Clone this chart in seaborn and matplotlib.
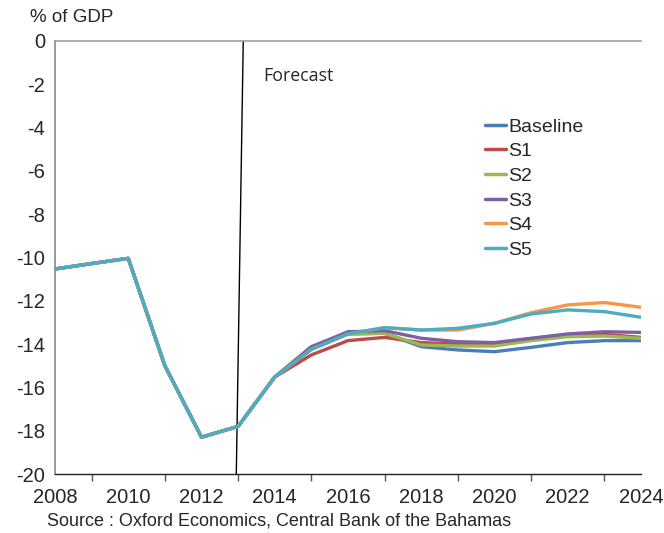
import matplotlib
matplotlib.use("Agg")
import matplotlib.pyplot as plt
import seaborn as sns
import pandas as pd
from matplotlib.ticker import MultipleLocator

# Fiscal balance, % of GDP
years = list(range(2008, 2025))
baseline = [-10.53, -10.28, -10.04, -15.0, -18.3, -17.8, -15.52, -14.24, -13.53, -13.5, -14.12, -14.27, -14.35, -14.15, -13.93, -13.84, -13.84]
s1 = [-10.53, -10.28, -10.04, -15.0, -18.3, -17.8, -15.52, -14.5, -13.84, -13.69, -13.93, -14.0, -14.04, -13.8, -13.6, -13.55, -13.69]
s2 = [-10.53, -10.28, -10.04, -15.0, -18.3, -17.8, -15.52, -14.12, -13.53, -13.5, -14.04, -14.09, -14.09, -13.84, -13.66, -13.63, -13.73]
s3 = [-10.53, -10.28, -10.04, -15.0, -18.3, -17.8, -15.52, -14.12, -13.43, -13.38, -13.73, -13.89, -13.93, -13.73, -13.53, -13.43, -13.46]
s4 = [-10.53, -10.28, -10.04, -15.0, -18.3, -17.8, -15.52, -14.24, -13.53, -13.24, -13.35, -13.35, -13.04, -12.55, -12.19, -12.08, -12.3]
s5 = [-10.53, -10.28, -10.04, -15.0, -18.3, -17.8, -15.52, -14.24, -13.53, -13.24, -13.35, -13.27, -13.04, -12.61, -12.42, -12.5, -12.76]

series_names = ["Baseline", "S1", "S2", "S3", "S4", "S5"]
series_values = [baseline, s1, s2, s3, s4, s5]
colors = ["#4a7ebb", "#be4b48", "#98b954", "#7d60a0", "#f79646", "#4bacc6"]

frames = [pd.DataFrame({"year": years, "value": v, "scenario": n})
          for n, v in zip(series_names, series_values)]
df = pd.concat(frames, ignore_index=True)

sns.set_style("white")
plt.rcParams["font.family"] = ["Liberation Sans", "DejaVu Sans"]
plt.rcParams["axes.unicode_minus"] = False

fig = plt.figure(figsize=(6.64, 5.33), dpi=100)
ax = fig.add_axes([55 / 664, 1 - 474 / 533, (641 - 55) / 664, (474 - 41) / 533])

sns.lineplot(data=df, x="year", y="value", hue="scenario",
             hue_order=series_names, palette=colors, linewidth=2.4,
             ax=ax, legend=True)

ax.set_xlim(2008, 2024)
ax.set_ylim(-20, 0)
ax.xaxis.set_major_locator(MultipleLocator(2))
ax.xaxis.set_minor_locator(MultipleLocator(1))
ax.yaxis.set_major_locator(MultipleLocator(2))
ax.set_xlabel("")
ax.set_ylabel("")

ax.tick_params(axis="x", which="both", direction="out", length=5, width=1,
               color="#555555", labelsize=14.5, pad=5)
ax.tick_params(axis="y", which="major", direction="out", length=5, width=1,
               color="#888888", labelsize=14.5, pad=2)
ax.tick_params(axis="y", which="minor", left=False)
ax.tick_params(axis="x", which="minor", bottom=True)

ax.spines["right"].set_visible(False)
ax.spines["top"].set_color("#a0a0a0")
ax.spines["top"].set_linewidth(1.2)
ax.spines["left"].set_color("#888888")
ax.spines["left"].set_linewidth(1.2)
ax.spines["bottom"].set_color("#222222")
ax.spines["bottom"].set_linewidth(1.0)

# Forecast divider
ax.plot([2013.14, 2012.95], [0, -20], color="black", linewidth=1.0,
        clip_on=False, zorder=1)
ax.text(2013.68, -1.6, "Forecast", fontsize=12.8, family=["Open Sans", "DejaVu Sans"],
        va="center", ha="left")

leg = ax.legend(loc="upper left", bbox_to_anchor=(0.72, 0.84), frameon=False,
                fontsize=14, handlelength=1.1, handletextpad=0.12,
                labelspacing=0.36, borderaxespad=0)
for line in leg.get_lines():
    line.set_linewidth(2.5)

fig.text(30 / 664, 1 - 17 / 533, "% of GDP", fontsize=13.5, va="center", ha="left")
fig.text(47 / 664, 1 - 521 / 533, "Source : Oxford Economics, Central Bank of the Bahamas",
         fontsize=13, va="center", ha="left")

fig.savefig("out.png", dpi=100)
